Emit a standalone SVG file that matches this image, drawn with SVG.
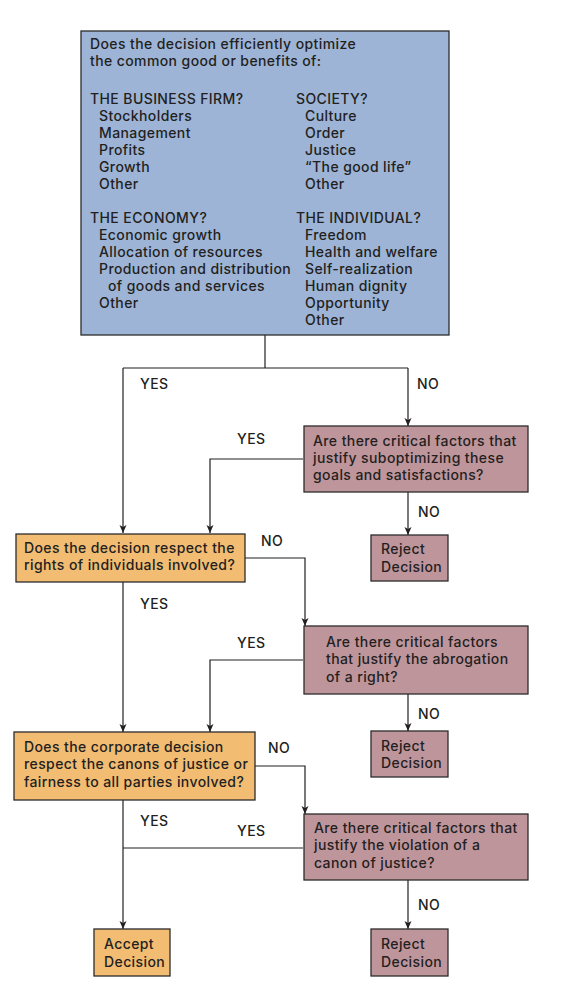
<svg xmlns="http://www.w3.org/2000/svg" width="587" height="983" viewBox="0 0 587 983">
<defs>
<style>
text{font-family:Inter,"Open Sans","Liberation Sans",Arial,sans-serif;font-size:14px;font-weight:500;letter-spacing:0.4px;fill:#231f20}
.blue{fill:#9db4d6;stroke:#2b2b2b;stroke-width:1.3}
.orange{fill:#f2bc72;stroke:#2b2b2b;stroke-width:1.3}
.pink{fill:#bf959c;stroke:#2b2b2b;stroke-width:1.3}
.c{fill:none;stroke:#231f20;stroke-width:1.2}
.a{marker-end:url(#arr)}
</style>
<marker id="arr" markerUnits="userSpaceOnUse" markerWidth="10" markerHeight="10" viewBox="-1 -5 10 10" refX="8" refY="0" orient="auto">
<path d="M0,-3.5 L8,0 L0,3.5 L2,0 Z" fill="#231f20"/>
</marker>
</defs>
<rect width="587" height="983" fill="#fff"/>

<g id="connectors">
<path class="c" d="M265,335 V368"/>
<path class="c" d="M123,368 H408"/>
<path class="c a" d="M123,368 V533"/>
<path class="c a" d="M408,368 V426"/>
<path class="c a" d="M303,459 H210 V533"/>
<path class="c a" d="M408,492 V535"/>
<path class="c a" d="M245,558 H305 V626"/>
<path class="c a" d="M123,582 V732"/>
<path class="c a" d="M303,660 H210 V732"/>
<path class="c a" d="M408,694 V731"/>
<path class="c a" d="M255,766 H305 V814"/>
<path class="c a" d="M123,800 V929"/>
<path class="c" d="M303,848 H123"/>
<path class="c a" d="M408,880 V929"/>
<text x="140" y="389">YES</text>
<text x="417" y="389">NO</text>
<text x="237" y="444">YES</text>
<text x="418" y="517">NO</text>
<text x="261" y="546">NO</text>
<text x="140" y="609">YES</text>
<text x="237" y="648">YES</text>
<text x="418" y="719">NO</text>
<text x="268" y="753">NO</text>
<text x="140" y="826">YES</text>
<text x="237" y="836">YES</text>
<text x="418" y="910">NO</text>
</g>

<g id="top">
<rect class="blue" x="81" y="31" width="368" height="304"/>
<text x="90" y="49">Does the decision efficiently optimize</text>
<text x="90" y="66">the common good or benefits of:</text>
<text x="90" y="104">THE BUSINESS FIRM?</text>
<text x="99" y="121">Stockholders</text>
<text x="99" y="138">Management</text>
<text x="99" y="155">Profits</text>
<text x="99" y="172">Growth</text>
<text x="99" y="189">Other</text>
<text x="296" y="104">SOCIETY?</text>
<text x="305" y="121">Culture</text>
<text x="305" y="138">Order</text>
<text x="305" y="155">Justice</text>
<text x="305" y="172">“The good life”</text>
<text x="305" y="189">Other</text>
<text x="90" y="223">THE ECONOMY?</text>
<text x="99" y="240">Economic growth</text>
<text x="99" y="257">Allocation of resources</text>
<text x="99" y="274">Production and distribution</text>
<text x="108" y="291">of goods and services</text>
<text x="99" y="308">Other</text>
<text x="296" y="223">THE INDIVIDUAL?</text>
<text x="305" y="240">Freedom</text>
<text x="305" y="257">Health and welfare</text>
<text x="305" y="274">Self-realization</text>
<text x="305" y="291">Human dignity</text>
<text x="305" y="308">Opportunity</text>
<text x="305" y="325">Other</text>
</g>

<g id="q1">
<rect class="pink" x="304" y="426" width="224" height="66"/>
<text x="313" y="446">Are there critical factors that</text>
<text x="313" y="463">justify suboptimizing these</text>
<text x="313" y="480">goals and satisfactions?</text>
</g>

<g id="rights">
<rect class="orange" x="16" y="534" width="229" height="48"/>
<text x="24" y="553">Does the decision respect the</text>
<text x="24" y="570">rights of individuals involved?</text>
</g>

<g id="reject1">
<rect class="pink" x="371" y="535" width="77" height="46"/>
<text x="381" y="554">Reject</text>
<text x="381" y="572">Decision</text>
</g>

<g id="q2">
<rect class="pink" x="304" y="626" width="224" height="68"/>
<text x="326" y="647">Are there critical factors</text>
<text x="326" y="664">that justify the abrogation</text>
<text x="326" y="682">of a right?</text>
</g>

<g id="justice">
<rect class="orange" x="14" y="732" width="241" height="68"/>
<text x="24" y="752">Does the corporate decision</text>
<text x="24" y="769">respect the canons of justice or</text>
<text x="24" y="787">fairness to all parties involved?</text>
</g>

<g id="reject2">
<rect class="pink" x="371" y="731" width="77" height="46"/>
<text x="381" y="751">Reject</text>
<text x="381" y="768">Decision</text>
</g>

<g id="q3">
<rect class="pink" x="304" y="814" width="224" height="66"/>
<text x="314" y="833">Are there critical factors that</text>
<text x="314" y="850">justify the violation of a</text>
<text x="314" y="868">canon of justice?</text>
</g>

<g id="accept">
<rect class="orange" x="94" y="929" width="76" height="47"/>
<text x="104" y="949">Accept</text>
<text x="104" y="967">Decision</text>
</g>

<g id="reject3">
<rect class="pink" x="371" y="929" width="77" height="47"/>
<text x="381" y="949">Reject</text>
<text x="381" y="967">Decision</text>
</g>
</svg>
